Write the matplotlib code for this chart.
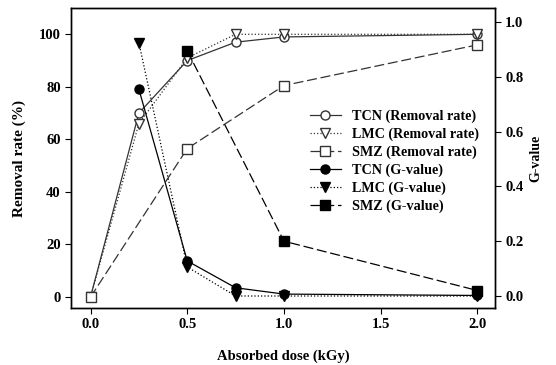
import numpy as np
import matplotlib.pyplot as plt

plt.rcParams['font.family'] = ['Liberation Serif', 'DejaVu Serif']
plt.rcParams['font.weight'] = 'bold'

# absorbed dose (kGy)
dose = [0, 0.25, 0.5, 0.75, 1.0, 2.0]
dose_smz = [0, 0.5, 1.0, 2.0]
dose_g = [0.25, 0.5, 0.75, 1.0, 2.0]
dose_g_smz = [0.5, 1.0, 2.0]

# removal rate (%)
tcn_removal = [0, 70, 90, 97, 99, 100]
lmc_removal = [0, 66, 91, 100, 100, 100]
smz_removal = [0, 56.5, 80.5, 96]

# G-value
tcn_g = [0.755, 0.128, 0.03, 0.007, 0.002]
lmc_g = [0.925, 0.106, 0.0, 0.0, 0.0]
smz_g = [0.895, 0.2, 0.02]

fig = plt.figure(figsize=(5.56, 3.65), dpi=100)
ax = fig.add_axes([0.128, 0.156, 0.762, 0.822])
ax2 = ax.twinx()

ms = 6.5
h1, = ax.plot(dose, tcn_removal, '-', color='#333333', lw=0.9, marker='o', ms=ms,
              mfc='white', mec='#333333', label='TCN (Removal rate)')
h2, = ax.plot(dose, lmc_removal, ':', color='#333333', lw=0.9, marker='v', ms=ms + 0.5,
              mfc='white', mec='#333333', label='LMC (Removal rate)')
h3, = ax.plot(dose_smz, smz_removal, '--', dashes=(8, 3), color='#333333', lw=0.9, marker='s', ms=ms,
              mfc='white', mec='#333333', label='SMZ (Removal rate)')

h4, = ax2.plot(dose_g, tcn_g, '-', color='black', lw=0.9, marker='o', ms=ms,
               label='TCN (G-value)')
h5, = ax2.plot(dose_g, lmc_g, ':', color='black', lw=0.9, marker='v', ms=ms + 0.5,
               label='LMC (G-value)')
h6, = ax2.plot(dose_g_smz, smz_g, '--', dashes=(8, 3), color='black', lw=0.9, marker='s', ms=ms,
               label='SMZ (G-value)')

ax.set_xlim(-0.1, 2.09)
ax.set_ylim(-4.2, 110)
ax2.set_ylim(-0.044, 1.051)
ax.set_xticks([0.0, 0.5, 1.0, 1.5, 2.0])
ax.set_xticklabels(['0.0', '0.5', '1.0', '1.5', '2.0'], fontweight='bold')
ax.set_yticks([0, 20, 40, 60, 80, 100])
ax.set_yticklabels(['0', '20', '40', '60', '80', '100'], fontweight='bold')
ax2.set_yticks([0.0, 0.2, 0.4, 0.6, 0.8, 1.0])
ax2.set_yticklabels(['0.0', '0.2', '0.4', '0.6', '0.8', '1.0'], fontweight='bold')

for a in (ax, ax2):
    a.tick_params(direction='out', length=4, width=0.8, labelsize=10.5)
    for s in a.spines.values():
        s.set_linewidth(1.0)

ax.set_xlabel('Absorbed dose (kGy)', fontsize=10.5, fontweight='bold', labelpad=13)
ax.set_ylabel('Removal rate (%)', fontsize=11, fontweight='bold', labelpad=9)
ax2.set_ylabel('G-value', fontsize=10, fontweight='bold', labelpad=4)

ax2.legend(handles=[h1, h2, h3, h4, h5, h6], loc='upper left',
           bbox_to_anchor=(0.55, 0.68), frameon=False,
           prop={'weight': 'bold', 'size': 10.2},
           handlelength=2.2, labelspacing=0.32, borderaxespad=0)

fig.savefig('out.png', dpi=100)
